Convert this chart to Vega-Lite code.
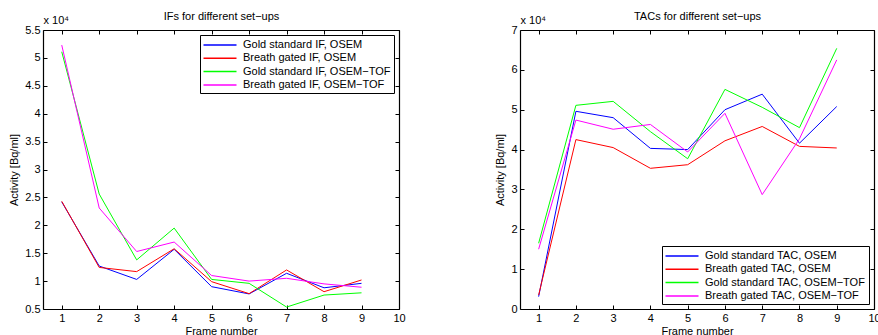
{
  "$schema": "https://vega.github.io/schema/vega-lite/v6.json",
  "padding": {"left": 8, "top": 10, "right": 0, "bottom": 0},
  "bounds": "flush",
  "spacing": 121,
  "config": {
    "font": "Liberation Sans",
    "view": {"stroke": null},
    "axis": {
      "grid": false, "domainColor": "black", "tickColor": "black", "labelColor": "black",
      "titleColor": "black", "labelFontSize": 11, "titleFontSize": 11, "titleFontWeight": "normal",
      "tickSize": -4, "labelPadding": 7, "domainWidth": 1.2, "tickWidth": 1, "labelFlush": false
    },
    "legend": {
      "strokeColor": "black", "fillColor": "white", "padding": 3, "cornerRadius": 0,
      "symbolType": "M-2.75,0L2.75,0", "symbolSize": 144, "symbolStrokeWidth": 1.5,
      "symbolOffset": 10,
      "labelFontSize": 11, "labelColor": "black", "labelOffset": 16, "rowPadding": 1.3,
      "labelLimit": 300, "offset": 5
    }
  },
  "hconcat": [
    {
      "width": 356, "height": 279,
      "data": {"values": [
        {"frame": 1, "value": 24200, "series": "Gold standard IF, OSEM"},
        {"frame": 2, "value": 12700, "series": "Gold standard IF, OSEM"},
        {"frame": 3, "value": 10300, "series": "Gold standard IF, OSEM"},
        {"frame": 4, "value": 15700, "series": "Gold standard IF, OSEM"},
        {"frame": 5, "value": 9000, "series": "Gold standard IF, OSEM"},
        {"frame": 6, "value": 7700, "series": "Gold standard IF, OSEM"},
        {"frame": 7, "value": 11400, "series": "Gold standard IF, OSEM"},
        {"frame": 8, "value": 8800, "series": "Gold standard IF, OSEM"},
        {"frame": 9, "value": 9600, "series": "Gold standard IF, OSEM"},
        {"frame": 1, "value": 24300, "series": "Breath gated IF, OSEM"},
        {"frame": 2, "value": 12450, "series": "Breath gated IF, OSEM"},
        {"frame": 3, "value": 11700, "series": "Breath gated IF, OSEM"},
        {"frame": 4, "value": 15800, "series": "Breath gated IF, OSEM"},
        {"frame": 5, "value": 9900, "series": "Breath gated IF, OSEM"},
        {"frame": 6, "value": 7750, "series": "Breath gated IF, OSEM"},
        {"frame": 7, "value": 12000, "series": "Breath gated IF, OSEM"},
        {"frame": 8, "value": 8100, "series": "Breath gated IF, OSEM"},
        {"frame": 9, "value": 10200, "series": "Breath gated IF, OSEM"},
        {"frame": 1, "value": 51100, "series": "Gold standard IF, OSEM−TOF"},
        {"frame": 2, "value": 25600, "series": "Gold standard IF, OSEM−TOF"},
        {"frame": 3, "value": 13800, "series": "Gold standard IF, OSEM−TOF"},
        {"frame": 4, "value": 19500, "series": "Gold standard IF, OSEM−TOF"},
        {"frame": 5, "value": 10300, "series": "Gold standard IF, OSEM−TOF"},
        {"frame": 6, "value": 9600, "series": "Gold standard IF, OSEM−TOF"},
        {"frame": 7, "value": 5350, "series": "Gold standard IF, OSEM−TOF"},
        {"frame": 8, "value": 7500, "series": "Gold standard IF, OSEM−TOF"},
        {"frame": 9, "value": 7900, "series": "Gold standard IF, OSEM−TOF"},
        {"frame": 1, "value": 52300, "series": "Breath gated IF, OSEM−TOF"},
        {"frame": 2, "value": 23100, "series": "Breath gated IF, OSEM−TOF"},
        {"frame": 3, "value": 15300, "series": "Breath gated IF, OSEM−TOF"},
        {"frame": 4, "value": 17000, "series": "Breath gated IF, OSEM−TOF"},
        {"frame": 5, "value": 11000, "series": "Breath gated IF, OSEM−TOF"},
        {"frame": 6, "value": 10000, "series": "Breath gated IF, OSEM−TOF"},
        {"frame": 7, "value": 10500, "series": "Breath gated IF, OSEM−TOF"},
        {"frame": 8, "value": 9500, "series": "Breath gated IF, OSEM−TOF"},
        {"frame": 9, "value": 8900, "series": "Breath gated IF, OSEM−TOF"}
      ]},
      "layer": [
        {
          "mark": {"type": "line", "strokeWidth": 1, "clip": true},
          "encoding": {
            "x": {"field": "frame", "type": "quantitative",
              "scale": {"domain": [0.5, 10], "nice": false, "zero": false},
              "axis": {"values": [1,2,3,4,5,6,7,8,9,10], "title": "Frame number", "titlePadding": 2}},
            "y": {"field": "value", "type": "quantitative",
              "scale": {"domain": [5000, 55000], "nice": false, "zero": false},
              "axis": {"values": [5000,10000,15000,20000,25000,30000,35000,40000,45000,50000,55000],
                "labelExpr": "datum.value/10000", "title": "Activity [Bq/ml]", "titlePadding": 5}},
            "color": {"field": "series", "type": "nominal",
              "scale": {"domain": ["Gold standard IF, OSEM", "Breath gated IF, OSEM", "Gold standard IF, OSEM−TOF", "Breath gated IF, OSEM−TOF"],
                "range": ["#0000ff", "#ff0000", "#00ff00", "#ff00ff"]},
              "legend": {"title": null, "orient": "top-right"}}
          }
        },
        {
          "mark": {"type": "point", "opacity": 0},
          "encoding": {
            "x": {"field": "frame", "type": "quantitative",
              "axis": {"orient": "top", "values": [1,2,3,4,5,6,7,8,9,10], "labels": false,
                "title": "IFs for different set−ups", "titleX": 178, "titleY": -9,
                "titleAlign": "center", "titleBaseline": "bottom"}},
            "y": {"field": "value", "type": "quantitative",
              "axis": {"orient": "right", "values": [5000,10000,15000,20000,25000,30000,35000,40000,45000,50000,55000],
                "labels": false, "title": "x 10⁴", "titleAngle": 0, "titleX": -356, "titleY": -5,
                "titleAlign": "left", "titleBaseline": "bottom"}}
          }
        }
      ],
      "resolve": {"axis": {"x": "independent", "y": "independent"}}
    },
    {
      "width": 354, "height": 279,
      "data": {"values": [
        {"frame": 1, "value": 3100, "series": "Gold standard TAC, OSEM"},
        {"frame": 2, "value": 49600, "series": "Gold standard TAC, OSEM"},
        {"frame": 3, "value": 48000, "series": "Gold standard TAC, OSEM"},
        {"frame": 4, "value": 40300, "series": "Gold standard TAC, OSEM"},
        {"frame": 5, "value": 40000, "series": "Gold standard TAC, OSEM"},
        {"frame": 6, "value": 50000, "series": "Gold standard TAC, OSEM"},
        {"frame": 7, "value": 53900, "series": "Gold standard TAC, OSEM"},
        {"frame": 8, "value": 41600, "series": "Gold standard TAC, OSEM"},
        {"frame": 9, "value": 50800, "series": "Gold standard TAC, OSEM"},
        {"frame": 1, "value": 3500, "series": "Breath gated TAC, OSEM"},
        {"frame": 2, "value": 42500, "series": "Breath gated TAC, OSEM"},
        {"frame": 3, "value": 40500, "series": "Breath gated TAC, OSEM"},
        {"frame": 4, "value": 35300, "series": "Breath gated TAC, OSEM"},
        {"frame": 5, "value": 36200, "series": "Breath gated TAC, OSEM"},
        {"frame": 6, "value": 42200, "series": "Breath gated TAC, OSEM"},
        {"frame": 7, "value": 45800, "series": "Breath gated TAC, OSEM"},
        {"frame": 8, "value": 40800, "series": "Breath gated TAC, OSEM"},
        {"frame": 9, "value": 40400, "series": "Breath gated TAC, OSEM"},
        {"frame": 1, "value": 16500, "series": "Gold standard TAC, OSEM−TOF"},
        {"frame": 2, "value": 51100, "series": "Gold standard TAC, OSEM−TOF"},
        {"frame": 3, "value": 52100, "series": "Gold standard TAC, OSEM−TOF"},
        {"frame": 4, "value": 44500, "series": "Gold standard TAC, OSEM−TOF"},
        {"frame": 5, "value": 37700, "series": "Gold standard TAC, OSEM−TOF"},
        {"frame": 6, "value": 55100, "series": "Gold standard TAC, OSEM−TOF"},
        {"frame": 7, "value": 50600, "series": "Gold standard TAC, OSEM−TOF"},
        {"frame": 8, "value": 45500, "series": "Gold standard TAC, OSEM−TOF"},
        {"frame": 9, "value": 65400, "series": "Gold standard TAC, OSEM−TOF"},
        {"frame": 1, "value": 15000, "series": "Breath gated TAC, OSEM−TOF"},
        {"frame": 2, "value": 47400, "series": "Breath gated TAC, OSEM−TOF"},
        {"frame": 3, "value": 45100, "series": "Breath gated TAC, OSEM−TOF"},
        {"frame": 4, "value": 46300, "series": "Breath gated TAC, OSEM−TOF"},
        {"frame": 5, "value": 39400, "series": "Breath gated TAC, OSEM−TOF"},
        {"frame": 6, "value": 49100, "series": "Breath gated TAC, OSEM−TOF"},
        {"frame": 7, "value": 28700, "series": "Breath gated TAC, OSEM−TOF"},
        {"frame": 8, "value": 42700, "series": "Breath gated TAC, OSEM−TOF"},
        {"frame": 9, "value": 62500, "series": "Breath gated TAC, OSEM−TOF"}
      ]},
      "layer": [
        {
          "mark": {"type": "line", "strokeWidth": 1, "clip": true},
          "encoding": {
            "x": {"field": "frame", "type": "quantitative",
              "scale": {"domain": [0.5, 10], "nice": false, "zero": false},
              "axis": {"values": [1,2,3,4,5,6,7,8,9,10], "title": "Frame number", "titlePadding": 2}},
            "y": {"field": "value", "type": "quantitative",
              "scale": {"domain": [0, 70000], "nice": false, "zero": false},
              "axis": {"values": [0,10000,20000,30000,40000,50000,60000,70000],
                "labelExpr": "datum.value/10000", "title": "Activity [Bq/ml]", "titlePadding": 5}},
            "color": {"field": "series", "type": "nominal",
              "scale": {"domain": ["Gold standard TAC, OSEM", "Breath gated TAC, OSEM", "Gold standard TAC, OSEM−TOF", "Breath gated TAC, OSEM−TOF"],
                "range": ["#0000ff", "#ff0000", "#00ff00", "#ff00ff"]},
              "legend": {"title": null, "orient": "bottom-right"}}
          }
        },
        {
          "mark": {"type": "point", "opacity": 0},
          "encoding": {
            "x": {"field": "frame", "type": "quantitative",
              "axis": {"orient": "top", "values": [1,2,3,4,5,6,7,8,9,10], "labels": false,
                "title": "TACs for different set−ups", "titleX": 177, "titleY": -9,
                "titleAlign": "center", "titleBaseline": "bottom"}},
            "y": {"field": "value", "type": "quantitative",
              "axis": {"orient": "right", "values": [0,10000,20000,30000,40000,50000,60000,70000],
                "labels": false, "title": "x 10⁴", "titleAngle": 0, "titleX": -354, "titleY": -5,
                "titleAlign": "left", "titleBaseline": "bottom"}}
          }
        }
      ],
      "resolve": {"axis": {"x": "independent", "y": "independent"}}
    }
  ],
  "resolve": {"scale": {"color": "independent"}, "legend": {"color": "independent"}}
}
